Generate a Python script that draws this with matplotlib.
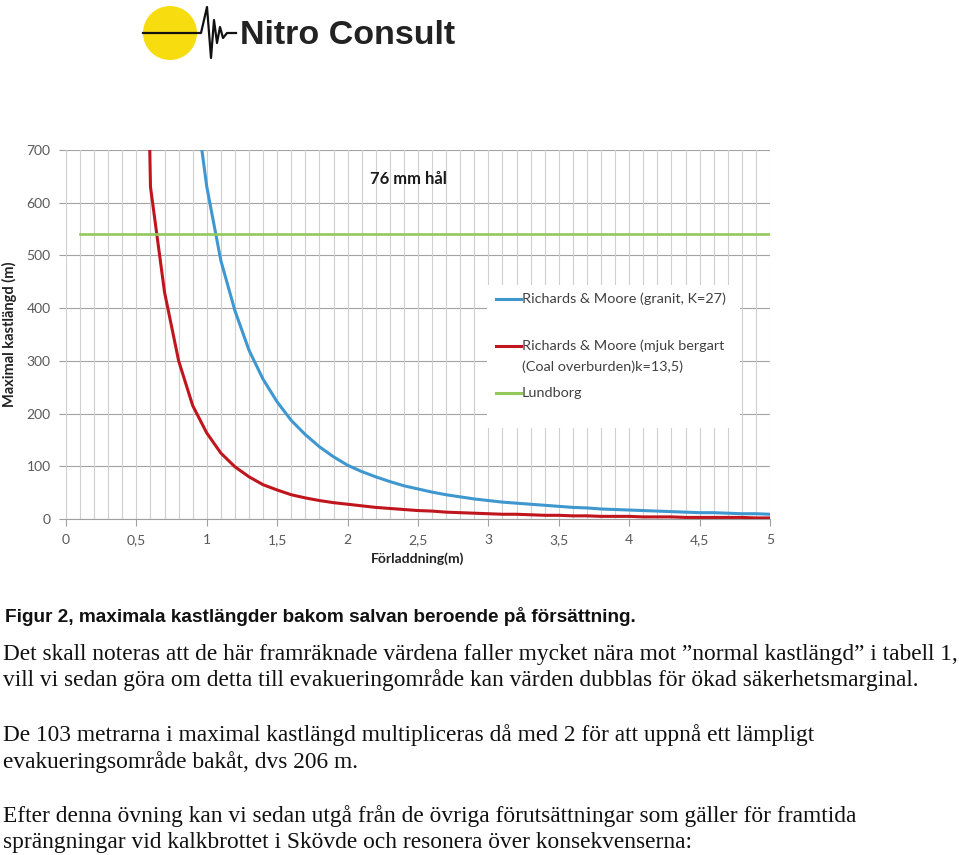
import matplotlib
matplotlib.use("Agg")
import matplotlib.pyplot as plt
from matplotlib.patches import Circle, Rectangle
from matplotlib.lines import Line2D
from matplotlib.ticker import FixedLocator

W, H = 959, 855

# ---- data ----
RED_X = [0.5, 0.6, 0.7, 0.8, 0.9, 1.0, 1.1, 1.2, 1.3, 1.4, 1.5, 1.6, 1.7, 1.8,
         1.9, 2.0, 2.1, 2.2, 2.3, 2.4, 2.5, 2.6, 2.7, 2.8, 2.9, 3.0, 3.1, 3.2,
         3.3, 3.4, 3.5, 3.6, 3.7, 3.8, 3.9, 4.0, 4.1, 4.2, 4.3, 4.4, 4.5, 4.6,
         4.7, 4.8, 4.9, 5.0]
RED = [2000, 630, 430, 300, 215, 163, 125, 99, 80, 65, 55, 46, 40, 35,
       31, 28, 25, 22, 20, 18, 16, 15, 13, 12, 11, 10, 9, 9,
       8, 7, 7, 6, 6, 5, 5, 5, 4, 4, 4, 3, 3, 3,
       3, 3, 2, 2]
BLUE_X = [0.9, 1.0, 1.1, 1.2, 1.3, 1.4, 1.5, 1.6, 1.7, 1.8, 1.9, 2.0, 2.1,
          2.2, 2.3, 2.4, 2.5, 2.6, 2.7, 2.8, 2.9, 3.0, 3.1, 3.2, 3.3, 3.4,
          3.5, 3.6, 3.7, 3.8, 3.9, 4.0, 4.1, 4.2, 4.3, 4.4, 4.5, 4.6, 4.7,
          4.8, 4.9, 5.0]
BLUE = [830, 630, 490, 395, 320, 265, 222, 187, 160, 137, 118, 102, 90,
        80, 71, 63, 57, 51, 46, 42, 38, 35, 32, 30, 28, 26,
        24, 22, 21, 19, 18, 17, 16, 15, 14, 13, 12, 12, 11,
        10, 10, 9]
LUND_X = [0.1, 5.0]
LUND = [540, 540]

X_TICKS = [0, 0.5, 1, 1.5, 2, 2.5, 3, 3.5, 4, 4.5, 5]
X_LABELS = ["0", "0,5", "1", "1,5", "2", "2,5", "3", "3,5", "4", "4,5", "5"]
Y_TICKS = [0, 100, 200, 300, 400, 500, 600, 700]

SERIES = [["Richards & Moore (granit, K=27)"],
          ["Richards & Moore (mjuk bergart", "(Coal overburden)k=13,5)"],
          ["Lundborg"]]

BLUE_C = "#3f97cf"
RED_C = "#c0151d"
GREEN_C = "#92c95a"
TICK_C = "#595959"
CHART_FONT = "Lato"

BODY = [
    (654, "Det skall noteras att de här framräknade värdena faller mycket nära mot \u201dnormal kastlängd\u201d i tabell 1,"),
    (680, "vill vi sedan göra om detta till evakueringområde kan värden dubblas för ökad säkerhetsmarginal."),
    (735, "De 103 metrarna i maximal kastlängd multipliceras då med 2 för att uppnå ett lämpligt"),
    (762, "evakueringsområde bakåt, dvs 206 m."),
    (816, "Efter denna övning kan vi sedan utgå från de övriga förutsättningar som gäller för framtida"),
    (842, "sprängningar vid kalkbrottet i Skövde och resonera över konsekvenserna:"),
]


def fx(px):
    return px / W


def fy(py):
    return 1 - py / H


fig = plt.figure(figsize=(W / 100, H / 100), dpi=100)

# ---- chart ----
ax = fig.add_axes([fx(66), fy(519), fx(770) - fx(66), fy(150) - fy(519)])
ax.plot(RED_X, RED, color=RED_C, lw=2.2, zorder=3, solid_joinstyle="round")
ax.plot(BLUE_X, BLUE, color=BLUE_C, lw=2.2, zorder=3, solid_joinstyle="round")
ax.plot(LUND_X, LUND, color=GREEN_C, lw=1.9, zorder=3)
ax.set_xlim(0, 5)
ax.set_ylim(0, 700)

for s in ("top", "right", "left"):
    ax.spines[s].set_visible(False)
ax.spines["bottom"].set_color("#a0a0a0")
ax.spines["bottom"].set_linewidth(0.8)

ax.xaxis.set_major_locator(FixedLocator(X_TICKS))
ax.set_xticklabels(X_LABELS)
ax.yaxis.set_major_locator(FixedLocator(Y_TICKS))
ax.tick_params(axis="both", colors="#a0a0a0", labelcolor=TICK_C, length=5,
               width=0.8, labelsize=10, pad=6)
for lab in ax.get_xticklabels() + ax.get_yticklabels():
    lab.set_family(CHART_FONT)

# vertical grid every 0.1, horizontal every 100
for i in range(0, 51):
    ax.axvline(i / 10, color="#cfcfcf", lw=0.8, zorder=1)
ax.yaxis.grid(True, color="#a3a3a3", lw=0.8, zorder=1)
ax.set_axisbelow(True)

ax.set_xlabel("Förladdning(m)", fontfamily=CHART_FONT, fontweight="bold",
              fontsize=10, color="#222222", labelpad=4)
ax.set_ylabel("Maximal kastlängd (m)", fontfamily=CHART_FONT, fontweight="bold",
              fontsize=10.5, color="#222222")
ax.yaxis.set_label_coords(-0.069, 0.5)
fig.text(fx(408), fy(179), "76 mm hål", fontfamily=CHART_FONT, fontweight="bold",
         fontsize=12, ha="center", va="center", color="#1a1a1a")

# ---- overlay for legend and logo ----
ov = fig.add_axes([0, 0, 1, 1], zorder=5)
ov.set_xlim(0, W)
ov.set_ylim(H, 0)
ov.axis("off")
ov.patch.set_alpha(0)

ov.add_patch(Rectangle((487, 285), 253, 143, facecolor="white", edgecolor="none"))
leg_rows = [(299, BLUE_C), (346, RED_C), (393, GREEN_C)]
for (y, c), lines in zip(leg_rows, SERIES):
    ov.add_line(Line2D([496, 521], [y, y], color=c, lw=2.2))
    for k, line in enumerate(lines):
        ov.text(522, y + 21 * k, line, fontfamily=CHART_FONT, fontsize=10.4,
                color="#404040", ha="left", va="center")

# logo
ov.add_patch(Circle((170, 33), 27, facecolor="#f7dc0f", edgecolor="none"))
wave_x = [143, 201, 207, 211, 214, 217, 220, 223, 227, 236]
wave_y = [33, 33, 7, 58, 20, 43, 27, 38, 33, 33]
ov.add_line(Line2D(wave_x, wave_y, color="#111111", lw=1.6))
ov.text(240, 35, "Nitro Consult", fontfamily="Liberation Sans", fontweight="bold",
        fontsize=24.5, color="#222222", ha="left", va="center")

# ---- page text ----
fig.text(fx(5), fy(617), "Figur 2, maximala kastlängder bakom salvan beroende på försättning.",
         fontfamily="Liberation Sans", fontweight="bold", fontsize=13.7,
         ha="left", va="center", color="#111111")
for y, line in BODY:
    fig.text(fx(3), fy(y), line, fontfamily="Liberation Serif", fontsize=16.85,
             ha="left", va="center", color="#111111")

fig.savefig("out.png", dpi=100)
